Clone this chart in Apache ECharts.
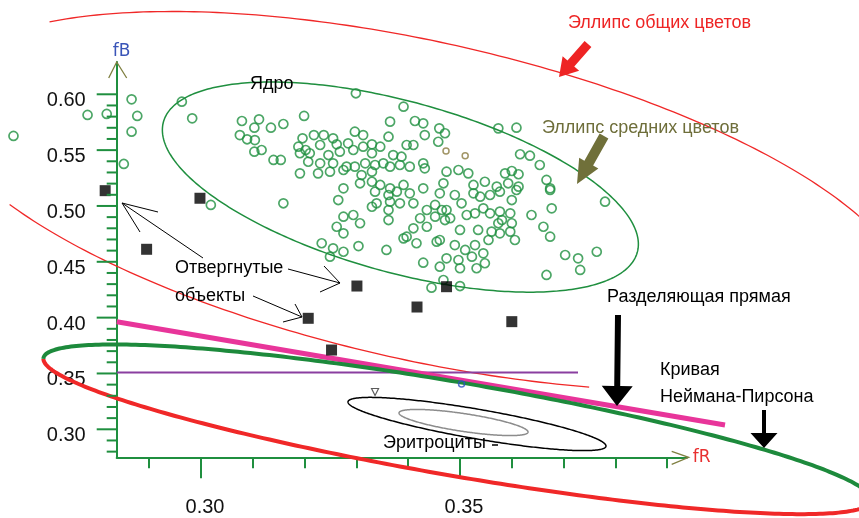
<!DOCTYPE html>
<html><head><meta charset="utf-8">
<script src="https://cdn.jsdelivr.net/npm/echarts@6/dist/echarts.min.js"></script>
<style>html,body{margin:0;padding:0;background:#fff}#c{width:859px;height:518px}</style>
</head><body><div id="c"></div>
<script>
// ---------- data ----------
const xMajorTicks = [0.30, 0.35];
const xMinorTicks = [0.29, 0.30, 0.31, 0.32, 0.33, 0.34, 0.35, 0.36, 0.37, 0.38, 0.39];
const yMajorTicks = [0.30, 0.35, 0.40, 0.45, 0.50, 0.55, 0.60];
const yMinorTicks = [0.28, 0.29, 0.30, 0.31, 0.32, 0.33, 0.34, 0.35, 0.36, 0.37, 0.38, 0.39, 0.40,
  0.41, 0.42, 0.43, 0.44, 0.45, 0.46, 0.47, 0.48, 0.49, 0.50, 0.51, 0.52, 0.53, 0.54, 0.55,
  0.56, 0.57, 0.58, 0.59, 0.60];

// nuclei (green hollow markers): [fR, fB]
const nuclei = [
  [0.2866, 0.5955], [0.2781, 0.5815], [0.2818, 0.5824], [0.2877, 0.5806], [0.2866, 0.5665],
  [0.2638, 0.5627], [0.2851, 0.5376],
  [0.2963, 0.5934], [0.2983, 0.5785], [0.3079, 0.5761], [0.3112, 0.5776], [0.3103, 0.5701],
  [0.3135, 0.5701], [0.3159, 0.5734], [0.3199, 0.5806], [0.3075, 0.5635], [0.3089, 0.5597],
  [0.3104, 0.5590], [0.3103, 0.5486], [0.3117, 0.5501], [0.3140, 0.5412], [0.3154, 0.5412],
  [0.3196, 0.5606], [0.3188, 0.5531], [0.3191, 0.5472], [0.3207, 0.5396], [0.3191, 0.5292],
  [0.3202, 0.5501], [0.3159, 0.5024], [0.3019, 0.5009],
  [0.3299, 0.6009], [0.3391, 0.5889], [0.3365, 0.5755], [0.3413, 0.5761], [0.3429, 0.5740],
  [0.3460, 0.5695], [0.3471, 0.5651], [0.3432, 0.5635], [0.3458, 0.5575], [0.3362, 0.5620],
  [0.3218, 0.5635], [0.3237, 0.5635], [0.3255, 0.5606], [0.3297, 0.5665], [0.3313, 0.5635],
  [0.3262, 0.5552], [0.3284, 0.5561], [0.3230, 0.5546], [0.3210, 0.5472], [0.3246, 0.5456],
  [0.3268, 0.5486], [0.3294, 0.5501], [0.3313, 0.5531], [0.3330, 0.5552], [0.3346, 0.5531],
  [0.3330, 0.5472], [0.3397, 0.5546], [0.3410, 0.5546], [0.3371, 0.5456], [0.3387, 0.5441],
  [0.3352, 0.5382], [0.3336, 0.5367], [0.3317, 0.5382], [0.3297, 0.5352], [0.3281, 0.5352],
  [0.3255, 0.5382], [0.3230, 0.5382], [0.3226, 0.5292], [0.3249, 0.5307], [0.3275, 0.5322],
  [0.3310, 0.5277], [0.3330, 0.5307], [0.3365, 0.5352], [0.3384, 0.5367], [0.3403, 0.5352],
  [0.3429, 0.5382], [0.3432, 0.5337], [0.3474, 0.5307], [0.3275, 0.5158], [0.3307, 0.5203],
  [0.3330, 0.5217], [0.3346, 0.5188], [0.3365, 0.5158], [0.3391, 0.5188], [0.3429, 0.5158],
  [0.3468, 0.5203],
  [0.3265, 0.5053], [0.3336, 0.5128], [0.3362, 0.5098], [0.3378, 0.5128], [0.3403, 0.5113],
  [0.3461, 0.5113], [0.3330, 0.4993], [0.3339, 0.5024], [0.3365, 0.5038], [0.3384, 0.5024],
  [0.3410, 0.5024], [0.3452, 0.5009], [0.3362, 0.4964], [0.3436, 0.4964], [0.3465, 0.4964],
  [0.3275, 0.4904], [0.3294, 0.4919], [0.3362, 0.4874], [0.3307, 0.4845], [0.3262, 0.4814],
  [0.3275, 0.4755], [0.3423, 0.4890], [0.3452, 0.4904], [0.3471, 0.4874], [0.3410, 0.4800],
  [0.3436, 0.4814], [0.3391, 0.4710], [0.3397, 0.4725], [0.3416, 0.4666], [0.3455, 0.4680],
  [0.3233, 0.4666], [0.3255, 0.4621], [0.3275, 0.4590], [0.3304, 0.4641], [0.3249, 0.4546],
  [0.3358, 0.4606], [0.3429, 0.4492], [0.3461, 0.4456], [0.3474, 0.4531], [0.3468, 0.4337],
  [0.3445, 0.4268],
  [0.3490, 0.5098], [0.3526, 0.5113], [0.3539, 0.5083], [0.3558, 0.5098], [0.3577, 0.5128],
  [0.3600, 0.5053], [0.3609, 0.5143], [0.3674, 0.5143], [0.3474, 0.4964], [0.3503, 0.5024],
  [0.3481, 0.4890], [0.3513, 0.4919], [0.3529, 0.4934], [0.3545, 0.4979], [0.3558, 0.4934],
  [0.3577, 0.4949], [0.3597, 0.4934], [0.3581, 0.4874], [0.3600, 0.4845], [0.3574, 0.4845],
  [0.3638, 0.4919], [0.3677, 0.4979], [0.3780, 0.5038], [0.3500, 0.4785], [0.3535, 0.4785],
  [0.3561, 0.4770], [0.3577, 0.4755], [0.3597, 0.4770], [0.3555, 0.4695], [0.3606, 0.4695],
  [0.3661, 0.4814], [0.3674, 0.4725], [0.3461, 0.4695], [0.3490, 0.4650], [0.3510, 0.4606],
  [0.3529, 0.4650], [0.3545, 0.4576], [0.3497, 0.4516], [0.3523, 0.4546], [0.3548, 0.4487],
  [0.3500, 0.4442], [0.3532, 0.4442], [0.3703, 0.4561], [0.3728, 0.4531], [0.3764, 0.4590],
  [0.3732, 0.4427], [0.3667, 0.4382], [0.3500, 0.4283],
  [0.3574, 0.5695], [0.3609, 0.5701], [0.3616, 0.5463], [0.3635, 0.5450], [0.3654, 0.5367],
  [0.3497, 0.5322], [0.3516, 0.5292], [0.3587, 0.5292], [0.3600, 0.5313], [0.3613, 0.5284],
  [0.3526, 0.5188], [0.3548, 0.5217], [0.3571, 0.5173], [0.3593, 0.5203], [0.3613, 0.5173],
  [0.3667, 0.5233], [0.3674, 0.5158]
];
// rejected objects (black squares)
const rejected = [
  [0.2815, 0.5137], [0.2998, 0.5069], [0.2895, 0.4612], [0.3301, 0.4283], [0.3207, 0.3994],
  [0.3252, 0.3710], [0.3417, 0.4095], [0.3474, 0.4277], [0.3600, 0.3964]
];
// small markers
const olivePoints = [[0.3473, 0.5492], [0.3510, 0.5450]];
const bluePoints = [[0.3503, 0.3406]];
const erythroMean = [[0.3336, 0.3334]];

// ellipses: [centerFR, centerFB, u_dFR, u_dFB, v_dFR, v_dFB]
const ellipseGeneral = [0.34278, 0.50444, 0.094015, -0.087311, 0, 0.145518];
const ellipseGeneralArcs = [[0, 140], [212, 290]];
const ellipseMiddle = [0.33849, 0.51689, 0.045946, -0.051133, 0, 0.078983];
const ellipseErythro = [0.35328, 0.30475, 0.024903, -0.019701, 0, 0.013433];
const ellipseErythroCore = [0.35068, 0.30609, 0.012452, -0.008507, 0, 0.008060];
const ellipseNP = [0.34950, 0.30000, 0.079923, -0.063043, 0, 0.042447];

// lines
const separatingLine = [[0.28373, 0.39636], [0.40116, 0.30385]];
const levelLine = [[0.28373, 0.3508], [0.37278, 0.3508]];

// ---------- layout ----------
const W = 859, H = 518;
const PX0 = 201, SX = 5180;      // px of fR=0.30, px per unit
const PY0 = 429.3, SY = 1116.7;  // px of fB=0.30, px per unit
const fx = p => 0.30 + (p - PX0) / SX;
const fy = p => 0.30 + (PY0 - p) / SY;
const AX = {left: 116.7, right: 686.7, top: 62, bottom: 457.3};

const AXIS_GREEN = '#1f8f3f';
const chart = echarts.init(document.getElementById('c'), null, {renderer: 'canvas'});

function ellipseSeries(par, arcs, color, width, z) {
  return {
    type: 'custom', coordinateSystem: 'cartesian2d', xAxisIndex: 0, yAxisIndex: 0,
    silent: true, z: z, data: [par],
    renderItem: function (params, api) {
      const c = api.coord([par[0], par[1]]);
      const pu = api.coord([par[0] + par[2], par[1] + par[3]]);
      const pv = api.coord([par[0] + par[4], par[1] + par[5]]);
      const U = [pu[0] - c[0], pu[1] - c[1]], V = [pv[0] - c[0], pv[1] - c[1]];
      const children = arcs.map(function (a) {
        const pts = [];
        for (let d = a[0]; d <= a[1] + 1e-9; d += 1) {
          const t = d * Math.PI / 180;
          pts.push([c[0] + U[0] * Math.cos(t) + V[0] * Math.sin(t), c[1] + U[1] * Math.cos(t) + V[1] * Math.sin(t)]);
        }
        return {type: 'polyline', shape: {points: pts}, style: {stroke: color, lineWidth: width, fill: null}};
      });
      return {type: 'group', children: children};
    }
  };
}

function arrowPoly(x0, y0, x1, y1, sw, hw, hl) {
  const dx = x1 - x0, dy = y1 - y0, L = Math.hypot(dx, dy), ux = dx / L, uy = dy / L, nx = -uy, ny = ux;
  const bx = x1 - ux * hl, by = y1 - uy * hl;
  return [[x0 + nx * sw / 2, y0 + ny * sw / 2], [bx + nx * sw / 2, by + ny * sw / 2], [bx + nx * hw / 2, by + ny * hw / 2],
    [x1, y1], [bx - nx * hw / 2, by - ny * hw / 2], [bx - nx * sw / 2, by - ny * sw / 2], [x0 - nx * sw / 2, y0 - ny * sw / 2]];
}
function fillArrow(x0, y0, x1, y1, sw, hw, hl, color) {
  return {type: 'polygon', shape: {points: arrowPoly(x0, y0, x1, y1, sw, hw, hl)}, style: {fill: color}, z: 50};
}
function lineArrow(pts, w1, tip, w2) {
  return [
    {type: 'polyline', shape: {points: pts}, style: {stroke: '#000', lineWidth: 1, fill: null}, z: 50},
    {type: 'polyline', shape: {points: [w1, tip, w2]}, style: {stroke: '#000', lineWidth: 1, fill: null}, z: 50}
  ];
}
const FONT = '18px "Liberation Sans", Arial, sans-serif';
function label(text, x, y, color, align) {
  return {type: 'text', x: x, y: y, z: 60, style: {text: text, font: FONT, fill: color, align: align || 'left', verticalAlign: 'middle'}};
}

const option = {
  animation: false,
  backgroundColor: '#fff',
  grid: [
    {left: 0, right: 0, top: 0, bottom: 0},
    {left: AX.left, right: W - AX.right, top: AX.top, bottom: H - AX.bottom},
    {left: AX.left, right: W - AX.right, top: AX.top, bottom: H - AX.bottom}
  ],
  xAxis: [
    {type: 'value', gridIndex: 0, min: fx(0), max: fx(W), show: false},
    {type: 'value', gridIndex: 1, position: 'bottom', min: fx(AX.left), max: fx(AX.right),
      axisLine: {show: true, onZero: false, lineStyle: {color: AXIS_GREEN, width: 2}},
      axisTick: {show: true, customValues: xMajorTicks, length: 21, lineStyle: {color: AXIS_GREEN, width: 2}},
      axisLabel: {show: true, customValues: xMajorTicks, margin: 40, padding: [0, 0, 0, 8],
        formatter: v => v.toFixed(2), color: '#111', fontSize: 20, fontFamily: 'Liberation Sans'},
      splitLine: {show: false},
      name: 'fR', nameLocation: 'end', nameGap: 6,
      nameTextStyle: {color: '#e83030', fontSize: 17, fontFamily: 'DejaVu Sans', verticalAlign: 'middle'}},
    {type: 'value', gridIndex: 2, position: 'bottom', min: fx(AX.left), max: fx(AX.right),
      axisLine: {show: false, onZero: false},
      axisTick: {show: true, customValues: xMinorTicks, length: 11, lineStyle: {color: AXIS_GREEN, width: 2}},
      axisLabel: {show: false}, splitLine: {show: false}}
  ],
  yAxis: [
    {type: 'value', gridIndex: 0, min: fy(H), max: fy(0), show: false},
    {type: 'value', gridIndex: 1, position: 'left', min: fy(AX.bottom), max: fy(AX.top),
      axisLine: {show: true, onZero: false, lineStyle: {color: AXIS_GREEN, width: 2}},
      axisTick: {show: false},
      axisLabel: {show: true, customValues: yMajorTicks, margin: 31, verticalAlign: 'top', lineHeight: 13,
        formatter: v => v.toFixed(2), color: '#111', fontSize: 20, fontFamily: 'Liberation Sans'},
      splitLine: {show: false},
      name: 'fB', nameLocation: 'end', nameGap: 2,
      nameTextStyle: {color: '#3a55b8', fontSize: 17, fontFamily: 'DejaVu Sans', align: 'left', padding: [0, 0, 0, -4]}},
    {type: 'value', gridIndex: 2, position: 'left', min: fy(AX.bottom), max: fy(AX.top), show: false}
  ],
  series: [
    ellipseSeries(ellipseGeneral, ellipseGeneralArcs, '#f02828', 1.3, 2),
    ellipseSeries(ellipseMiddle, [[0, 360]], '#1f8f3f', 1.5, 2),
    ellipseSeries(ellipseErythro, [[0, 360]], '#000000', 1.5, 2),
    ellipseSeries(ellipseErythroCore, [[0, 360]], '#8c8c8c', 1.5, 2),
    {type: 'line', xAxisIndex: 0, yAxisIndex: 0, data: levelLine, symbol: 'none', silent: true, z: 3,
      lineStyle: {color: '#8a3fa0', width: 2}},
    {type: 'line', xAxisIndex: 0, yAxisIndex: 0, data: separatingLine, symbol: 'none', silent: true, z: 4,
      lineStyle: {color: '#e8359a', width: 5}},
    ellipseSeries(ellipseNP, [[180, 360]], '#f02828', 4, 5),
    ellipseSeries(ellipseNP, [[0, 180]], '#1d8a3c', 4, 5),
    {type: 'scatter', xAxisIndex: 0, yAxisIndex: 0, data: nuclei, symbol: 'circle', symbolSize: 9, silent: true, z: 8,
      itemStyle: {color: 'rgba(0,0,0,0)', borderColor: '#1f9040', borderWidth: 1.7}},
    {type: 'scatter', xAxisIndex: 0, yAxisIndex: 0, data: olivePoints, symbol: 'circle', symbolSize: 6, silent: true, z: 8,
      itemStyle: {color: 'rgba(0,0,0,0)', borderColor: '#8a7a40', borderWidth: 1.5}},
    {type: 'scatter', xAxisIndex: 0, yAxisIndex: 0, data: bluePoints, symbol: 'circle', symbolSize: 6, silent: true, z: 8,
      itemStyle: {color: 'rgba(0,0,0,0)', borderColor: '#3050c0', borderWidth: 1.5}},
    {type: 'scatter', xAxisIndex: 0, yAxisIndex: 0, data: erythroMean, symbol: 'triangle', symbolRotate: 180, symbolSize: 7, silent: true, z: 8,
      itemStyle: {color: 'rgba(0,0,0,0)', borderColor: '#333', borderWidth: 1.2}},
    {type: 'scatter', xAxisIndex: 0, yAxisIndex: 0, data: rejected, symbol: 'rect', symbolSize: 11, silent: true, z: 9,
      itemStyle: {color: '#000'}},
    // y axis ticks (minor 10px, major 20px) drawn through the y scale
    {type: 'custom', xAxisIndex: 1, yAxisIndex: 1, silent: true, z: 10, clip: false,
      data: yMinorTicks.map(v => [fx(AX.left), v, yMajorTicks.some(m => Math.abs(m - v) < 1e-9) ? 20 : 10]),
      renderItem: function (params, api) {
        const p = api.coord([api.value(0), api.value(1)]);
        const len = api.value(2);
        return {type: 'line', shape: {x1: p[0] - len, y1: p[1], x2: p[0], y2: p[1]},
          style: {stroke: AXIS_GREEN, lineWidth: 2}};
      }},
    // axis arrow heads
    {type: 'custom', xAxisIndex: 1, yAxisIndex: 1, silent: true, z: 10, clip: false,
      data: [[fx(AX.left), fy(AX.top), 0], [fx(AX.right), fy(AX.bottom), 1]],
      renderItem: function (params, api) {
        const p = api.coord([api.value(0), api.value(1)]);
        const vert = api.value(2) === 0;
        const pts = vert ? [[p[0] - 8, p[1] + 16], [p[0], p[1]], [p[0] + 10, p[1] + 16]]
                         : [[p[0] - 15, p[1] - 6], [p[0] + 2, p[1]], [p[0] - 15, p[1] + 7]];
        return {type: 'polyline', shape: {points: pts}, style: {stroke: '#7f7f40', lineWidth: 1.3, fill: null}};
      }}
  ],
  graphic: [].concat(
    [label('Эллипс общих цветов', 568, 23, '#ee2424'),
     label('Эллипс средних цветов', 542, 128, '#6e6e3a'),
     label('Ядро', 250, 84, '#000'),
     label('Отвергнутые', 175, 268, '#000'),
     label('объекты', 175, 296, '#000'),
     label('Разделяющая прямая', 607, 297, '#000'),
     label('Кривая', 660, 370, '#000'),
     label('Неймана-Пирсона', 660, 397, '#000'),
     label('Эритроциты', 383, 443, '#000'),
     fillArrow(588, 44, 559, 77, 9, 22, 18, '#ee2424'),
     fillArrow(604, 136, 577, 184, 10, 22, 24, '#70703a'),
     fillArrow(618, 315, 617, 406, 6, 31, 20, '#000'),
     fillArrow(764, 410, 764, 448, 4, 27, 15, '#000'),
     {type: 'polyline', shape: {points: [[492, 445], [498, 445]]}, style: {stroke: '#000', lineWidth: 1.5}, z: 50}],
    lineArrow([[203, 258], [122, 203]], [158, 212], [122, 203], [140, 232]),
    lineArrow([[288, 269], [340, 283]], [324, 266], [340, 283], [320, 292]),
    lineArrow([[253, 296], [302, 317]], [295, 304], [302, 317], [283, 322])
  )
};
chart.setOption(option);
</script>
</body></html>
